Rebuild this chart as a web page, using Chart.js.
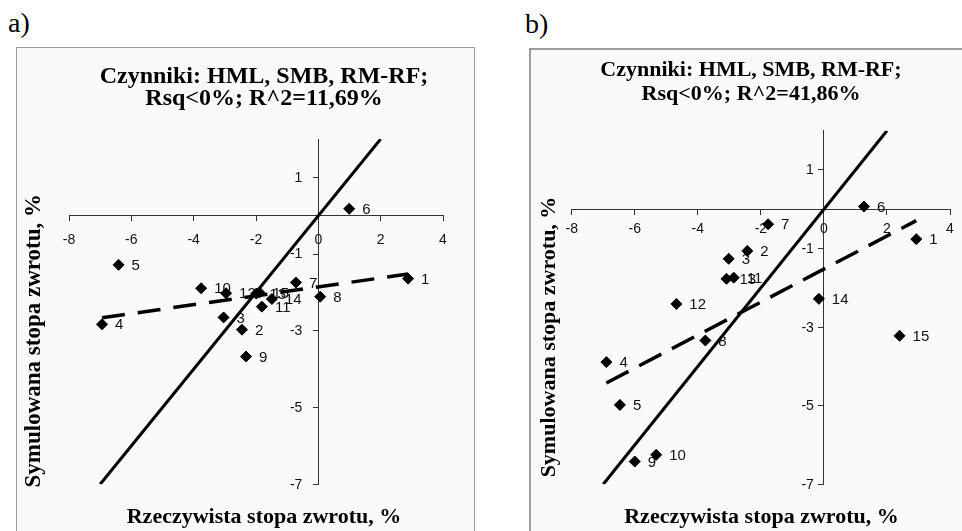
<!DOCTYPE html>
<html><head><meta charset="utf-8">
<script src="https://cdn.jsdelivr.net/npm/chart.js@4.4.1/dist/chart.umd.min.js"></script>
<style>
html,body{margin:0;padding:0;background:#fff;width:962px;height:531px;overflow:hidden;position:relative;}
.panel{position:absolute;background:#fafafa;box-sizing:border-box;overflow:hidden}
#pa{left:16px;top:47px;width:459px;height:500px;border:1px solid #9c9c9c;}
#pb{left:529px;top:48px;width:450px;height:500px;border-left:2px solid #9c9c9c;border-top:2px solid #9c9c9c;}
canvas{display:block}
.tag{position:absolute;font-family:"Liberation Serif","Times New Roman",serif;font-size:28px;line-height:28px;color:#000}
</style></head>
<body>
<div class="tag" style="left:8px;top:9px">a)</div>
<div class="tag" style="left:525px;top:10px">b)</div>
<div id="pa" class="panel"><canvas id="ca" width="457" height="488"></canvas></div>
<div id="pb" class="panel"><canvas id="cb" width="438" height="488"></canvas></div>
<script>
// ---- data ----
const pointIds = ['1','2','3','4','5','6','7','8','9','10','11','12','13','14','15'];
// panel a)
const actualA    = [2.88, -2.45, -3.04, -6.94, -6.41, 0.99, -0.72, 0.06, -2.32, -3.76, -1.81, -2.96, -1.99, -1.49, -1.89];
const simulatedA = [-1.64, -2.97, -2.65, -2.83, -1.28, 0.18, -1.74, -2.11, -3.67, -1.89, -2.37, -2.02, -2.03, -2.17, -2.00];
const trendXA = [-6.94, 2.88];
const trendYA = [-2.66, -1.52];
// panel b)
const actualB    = [2.93, -2.43, -3.02, -6.90, -6.47, 1.27, -1.77, -3.76, -6.00, -5.32, -2.86, -4.68, -3.09, -0.16, 2.40];
const simulatedB = [-0.76, -1.06, -1.26, -3.89, -4.98, 0.07, -0.38, -3.34, -6.42, -6.25, -1.74, -2.41, -1.77, -2.28, -3.22];
const trendXB = [-6.90, 2.93];
const trendYB = [-4.42, -0.29];
// 45-degree reference line ends
const refLine = [-7, 2];
// ticks
const xTicks = [-8, -6, -4, -2, 0, 2, 4];
const yTicks = [-7, -5, -3, -1, 1];
// texts
const titleA = ['Czynniki: HML, SMB, RM-RF;', 'Rsq<0%; R^2=11,69%'];
const titleB = ['Czynniki: HML, SMB, RM-RF;', 'Rsq<0%; R^2=41,86%'];
const xTitle = 'Rzeczywista stopa zwrotu, %';
const yTitle = 'Symulowana stopa zwrotu, %';

const SERIF = '"Liberation Serif","Times New Roman",serif';
const SANS = '"Liberation Sans",Arial,sans-serif';

const annot = {
  id: 'annot',
  beforeDatasetsDraw(chart, args, o) {
    const ctx = chart.ctx;
    const meta = chart.getDatasetMeta(0);
    ctx.save();
    ctx.font = o.labelSize + 'px ' + SANS;
    ctx.fillStyle = '#111';
    ctx.textBaseline = 'middle';
    ctx.textAlign = 'left';
    meta.data.forEach((el, i) => ctx.fillText(o.ids[i], el.x + o.labelDx, el.y + 1));
    // y tick labels, left of the crossing axis
    const xs = chart.scales.x, ys = chart.scales.y;
    const ax = xs.getPixelForValue(0);
    ctx.font = o.tickSize + 'px ' + SANS;
    ctx.textAlign = 'right';
    o.yTicks.forEach(v => ctx.fillText(String(v), ax - o.yTickGap, ys.getPixelForValue(v) + 0.5));
    ctx.restore();
  },
  afterDraw(chart, args, o) {
    const ctx = chart.ctx;
    ctx.save();
    ctx.fillStyle = '#000';
    ctx.textAlign = 'center';
    ctx.textBaseline = 'alphabetic';
    ctx.font = 'bold ' + o.titleSize + 'px ' + SERIF;
    o.title.forEach((t, i) => ctx.fillText(t, o.titleX, o.titleY[i]));
    ctx.font = 'bold ' + o.xTitleSize + 'px ' + SERIF;
    ctx.fillText(o.xTitle, o.xTitleX, o.xTitleY);
    ctx.translate(o.yTitleX, o.yTitleY);
    ctx.rotate(-Math.PI / 2);
    ctx.font = 'bold ' + o.yTitleSize + 'px ' + SERIF;
    ctx.fillText(o.yTitle, 0, 0);
    ctx.restore();
  }
};

function makeChart(id, xs, ys, tx, ty, L) {
  const pts = xs.map((x, i) => ({x: x, y: ys[i]}));
  const diag = refLine.map(v => ({x: v, y: v}));
  const trend = tx.map((x, i) => ({x: x, y: ty[i]}));
  return new Chart(document.getElementById(id), {
    type: 'scatter',
    data: {
      datasets: [
        {label: 'spółki', data: pts, pointStyle: 'rectRot', pointRadius: 5.5, pointBorderWidth: 1,
         backgroundColor: '#000', borderColor: '#000', order: 3},
        {label: 'trend', data: trend, showLine: true, borderColor: '#000', borderWidth: 3.5,
         borderDash: L.dash, pointRadius: 0, order: 2},
        {label: 'y=x', data: diag, showLine: true, borderColor: '#000', borderWidth: 3,
         pointRadius: 0, order: 1}
      ]
    },
    options: {
      responsive: false,
      animation: false,
      events: [],
      devicePixelRatio: 1,
      layout: {padding: L.pad},
      plugins: {
        legend: {display: false},
        tooltip: {enabled: false},
        title: {display: false},
        annot: {
          ids: pointIds, labelDx: L.labelDx, labelSize: 15, tickSize: 14,
          yTicks: yTicks, yTickGap: L.yTickGap,
          title: L.title, titleSize: L.titleSize, titleX: L.titleX, titleY: L.titleY,
          xTitle: xTitle, xTitleSize: L.xTitleSize, xTitleX: L.xTitleX, xTitleY: L.xTitleY,
          yTitle: yTitle, yTitleSize: L.yTitleSize, yTitleX: L.yTitleX, yTitleY: L.yTitleY
        }
      },
      scales: {
        x: {
          type: 'linear', position: {y: 0}, min: -8, max: 4,
          afterBuildTicks: s => { s.ticks = xTicks.map(v => ({value: v})); },
          ticks: {font: {family: SANS, size: 14}, color: '#111', padding: L.xTickPad,
                  maxRotation: 0, autoSkip: false, callback: v => String(v)},
          grid: {display: true, drawOnChartArea: false, drawTicks: true, tickLength: 5, color: '#333', lineWidth: 1},
          border: {display: true, color: '#333', width: 1}
        },
        y: {
          type: 'linear', position: {x: 0}, min: -7, max: 2,
          afterBuildTicks: s => { s.ticks = yTicks.map(v => ({value: v})); },
          ticks: {display: false},
          grid: {display: true, drawOnChartArea: false, drawTicks: true, tickLength: 5, color: '#333', lineWidth: 1},
          border: {display: true, color: '#333', width: 1}
        }
      }
    },
    plugins: [annot]
  });
}

const layoutA = {
  pad: {left: 52, right: 31, top: 91, bottom: 51.7},
  dash: [23, 13], labelDx: 13,
  title: titleA, titleSize: 24, titleX: 247, titleY: [35.3, 57],
  xTitleSize: 22, xTitleX: 247, xTitleY: 475,
  yTitleSize: 23, yTitleX: 23, yTitleY: 292.7,
  xTickPad: 11, yTickGap: 16
};
const layoutB = {
  pad: {left: 40.7, right: 19, top: 80.7, bottom: 53.7},
  dash: [25, 12], labelDx: 13,
  title: titleB, titleSize: 22, titleX: 220, titleY: [26, 50],
  xTitleSize: 22, xTitleX: 230.5, xTitleY: 473,
  yTitleSize: 22, yTitleX: 23.5, yTitleY: 287,
  xTickPad: 6, yTickGap: 10
};

makeChart('ca', actualA, simulatedA, trendXA, trendYA, layoutA);
makeChart('cb', actualB, simulatedB, trendXB, trendYB, layoutB);
</script>
</body></html>
